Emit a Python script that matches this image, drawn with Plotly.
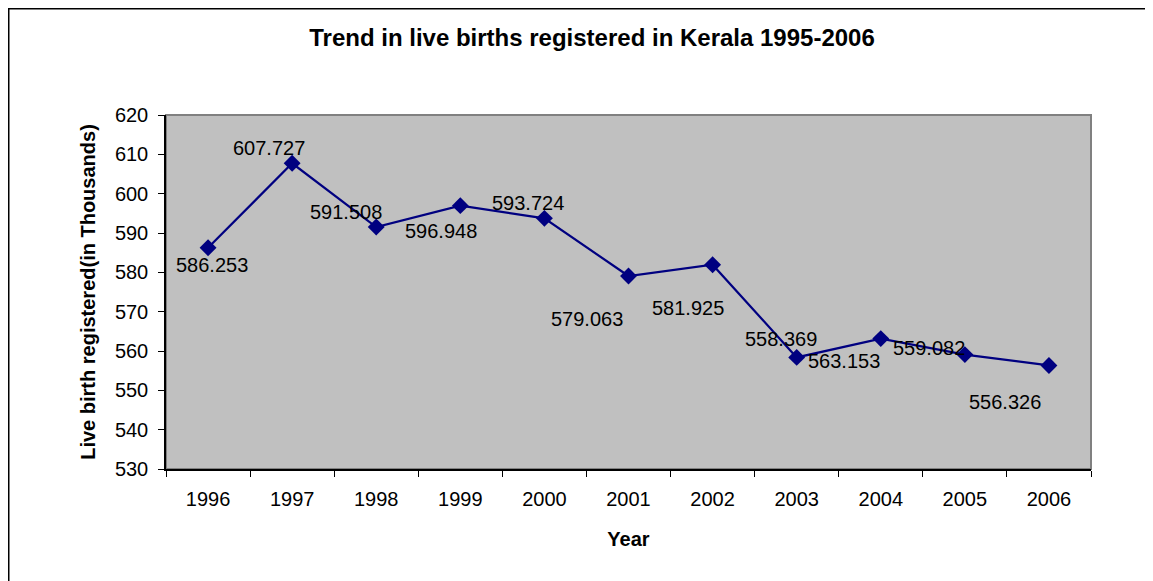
import plotly.graph_objects as go

years = ["1996", "1997", "1998", "1999", "2000", "2001", "2002", "2003", "2004", "2005", "2006"]
births = [586.253, 607.727, 591.508, 596.948, 593.724, 579.063, 581.925, 558.369, 563.153, 559.082, 556.326]
# pixel offsets of each data label from its point (dx right, dy down)
label_dx = [4, -23, -30, -19, -16, -42, -25, -16, -37, -36, -44]
label_dy = [17, -15, -15, 25, -15, 43, 43, -18, 22, -7, 37]

# page body has an 8px margin, so the figure is sized to fit inside the window
W, H = 1145, 573
L, R, T, B = 158, 1083, 107, 461
pw, ph = R - L, B - T

fig = go.Figure()
fig.add_trace(go.Scatter(
    x=years, y=births, mode="lines+markers",
    line=dict(color="#000080", width=2.2),
    marker=dict(symbol="diamond", size=13, color="#000080"),
    hoverinfo="x+y", showlegend=False,
))

for i, (v, dx, dy) in enumerate(zip(births, label_dx, label_dy)):
    fig.add_annotation(x=i, y=v, xref="x", yref="y", text=f"{v:.3f}", showarrow=False,
                       xshift=dx, yshift=-dy,
                       font=dict(family="Liberation Sans, Arial", size=20, color="black"))

fig.update_layout(
    width=W, height=H,
    margin=dict(l=L, r=W - R, t=T, b=H - B, pad=0),
    paper_bgcolor="white", plot_bgcolor="#C0C0C0",
    font=dict(family="Liberation Sans, Arial", color="black"),
    title=dict(text="<b>Trend in live births registered in Kerala 1995-2006</b>",
               x=584 / W, xref="container", xanchor="center",
               y=1 - 30 / H, yref="container", yanchor="middle",
               font=dict(size=24, color="black")),
    xaxis=dict(type="category", tickson="boundaries", ticks="outside", ticklen=6,
               tickcolor="black", showline=True, linecolor="black", linewidth=1.5,
               showgrid=False, tickfont=dict(size=20), ticklabelstandoff=11,
               title=dict(text="<b>Year</b>", font=dict(size=20), standoff=23),
               range=[-0.5, 10.5]),
    yaxis=dict(range=[530, 620], dtick=10, ticks="outside", ticklen=6,
               tickcolor="black", showline=True, linecolor="black", linewidth=1.5,
               showgrid=False, zeroline=False, tickfont=dict(size=20), ticklabelstandoff=6,
               title=dict(text="<b>Live birth registered(in Thousands)</b>", font=dict(size=20), standoff=14)),
    shapes=[
        dict(type="rect", xref="paper", yref="paper", x0=0, x1=1, y0=0, y1=1,
             line=dict(color="#808080", width=2), layer="below"),
        dict(type="rect", xref="paper", yref="paper",
             x0=(0.75 - L) / pw, x1=(W + 10 - L) / pw,
             y0=-(H + 10 - B) / ph, y1=1 + (T - 0.75) / ph,
             line=dict(color="black", width=1.5), layer="below"),
    ],
)

fig.write_html("out.html")
